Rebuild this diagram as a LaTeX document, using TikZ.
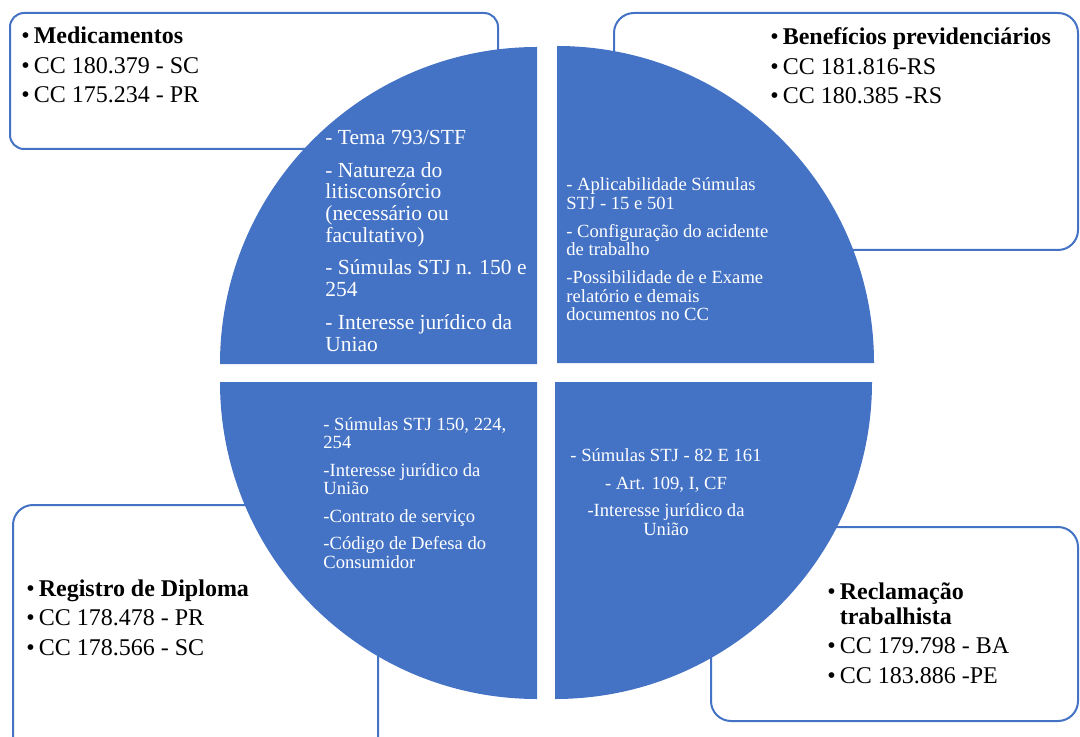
\documentclass[tikz,border=0pt]{standalone}
\usepackage{fontspec}
\setmainfont{Liberation Serif}
\definecolor{pieblue}{HTML}{4472C4}
\newcommand{\casebullet}{\textbullet\hspace{2pt}}
\newcommand{\casehang}{\phantom{\textbullet}\hspace{2pt}}

\begin{document}
\begin{tikzpicture}[x=0.5pt, y=0.5pt,
    casebox/.style={draw=pieblue, line width=1pt, rounded corners=10pt, fill=white, inner sep=0pt},
    casetext/.style={anchor=base west, align=left, inner sep=0pt, font=\fontsize{12}{12.25}\selectfont},
    quarter/.style={fill=pieblue},
    quartertext/.style={anchor=base west, align=left, inner sep=0pt, text=white, font=\fontsize{9.3}{9.25}\selectfont}]
    \clip (0,0) rectangle (1080,-737);

    % Case boxes
    \node[casebox, rounded corners=7pt, minimum width=244pt, minimum height=68pt] (medbox) at (254,-81) {};
    \node[casebox, minimum width=232pt, minimum height=118.5pt] (benebox) at (846,-131.5) {};
    \node[casebox, minimum width=182.5pt, minimum height=132.5pt] (dipbox) at (195.5,-637.5) {};
    \node[casebox, minimum width=183.5pt, minimum height=97pt] (reclbox) at (894.5,-624) {};

    % Pie quarters
    \fill[quarter] (537,-364) -- (220,-364) arc[start angle=180, end angle=90, radius=317] -- cycle;
    \fill[quarter] (557,-363) -- (557,-46) arc[start angle=90, end angle=0, radius=317] -- cycle;
    \fill[quarter] (537,-382) -- (220,-382) arc[start angle=180, end angle=270, radius=317] -- cycle;
    \fill[quarter] (555,-382) -- (872,-382) arc[start angle=0, end angle=-90, radius=317] -- cycle;

    % Box texts (anchored at the last line)
    \node[casetext] (medtxt) at (21,-103) {\casebullet\textbf{Medicamentos}\\[2.5pt]
        \casebullet CC 180.379 - SC\\[2.5pt] \casebullet CC 175.234 - PR};
    \node[casetext] (benetxt) at (770,-104) {\casebullet\textbf{Benefícios previdenciários}\\[2.5pt]
        \casebullet CC 181.816-RS\\[2.5pt] \casebullet CC 180.385 -RS};
    \node[casetext] (diptxt) at (26,-655) {\casebullet\textbf{Registro de Diploma}\\[2.5pt]
        \casebullet CC 178.478 - PR\\[2.5pt] \casebullet CC 178.566 - SC};
    \node[casetext] (recltxt) at (827,-683) {\casebullet\textbf{Reclamação}\\
        \casehang\textbf{trabalhista}\\[2.5pt] \casebullet CC 179.798 - BA\\[2.5pt] \casebullet CC 183.886 -PE};

    % Quarter texts
    \node[quartertext, font=\fontsize{10.75}{10.85}\selectfont] (medtemas) at (325,-351)
        {- Tema 793/STF\\[5.5pt] - Natureza do\\ litisconsórcio\\ (necessário ou\\ facultativo)\\[5.5pt]
         - Súmulas STJ n. 150 e\\ 254\\[5.5pt] - Interesse jurídico da\\ Uniao};
    \node[quartertext] (benetemas) at (566,-321)
        {- Aplicabilidade Súmulas\\ STJ - 15 e 501\\[4.75pt] - Configuração do acidente\\ de trabalho\\[4.75pt]
         -Possibilidade de e Exame\\ relatório e demais\\ documentos no CC};
    \node[quartertext] (diptemas) at (323,-568)
        {- Súmulas STJ 150, 224,\\ 254\\[4.5pt] -Interesse jurídico da\\ União\\[4.5pt]
         -Contrato de serviço\\[4.5pt] -Código de Defesa do\\ Consumidor};
    \node[quartertext, anchor=base, align=center] (recltemas) at (666,-535)
        {- Súmulas STJ - 82 E 161\\[4.5pt] - Art. 109, I, CF\\[4.5pt] -Interesse jurídico da\\ União};
\end{tikzpicture}
\end{document}
